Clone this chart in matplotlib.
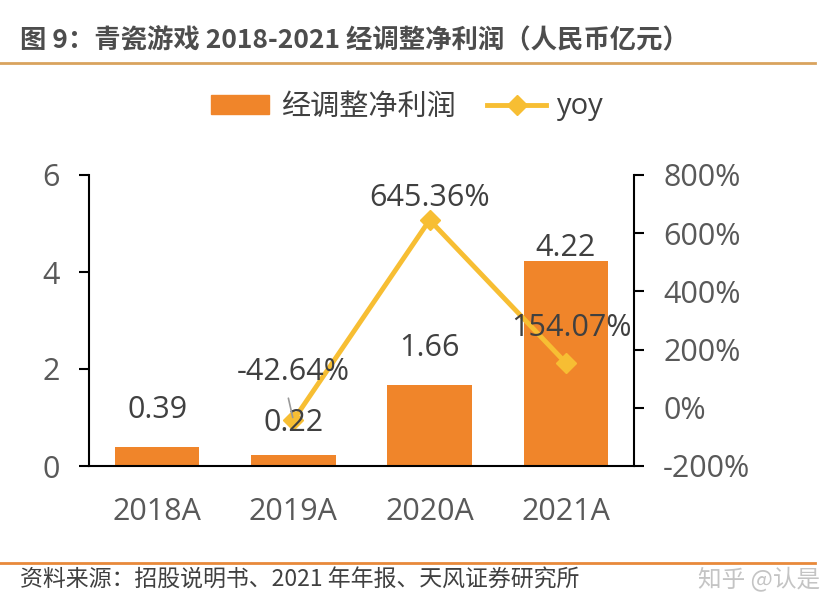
import matplotlib
matplotlib.use("Agg")
from matplotlib import pyplot as plt
from matplotlib.patches import Patch
from matplotlib.lines import Line2D

plt.rcParams['font.family'] = ['Open Sans', 'Noto Sans CJK SC', 'DejaVu Sans']

# data
years = ['2018A', '2019A', '2020A', '2021A']
profit = [0.39, 0.22, 1.66, 4.22]
yoy_years = ['2019A', '2020A', '2021A']
yoy = [-42.64, 645.36, 154.07]

bar_color = '#F0852A'
line_color = '#F7BE33'
text_color = '#404040'
tick_color = '#595959'

fig = plt.figure(figsize=(8.4, 6.15), dpi=100)
ax = fig.add_axes([89/840, 1-466/615, (634-89)/840, (466-175)/615])
ax2 = ax.twinx()

x = list(range(len(years)))
ax.bar(x, profit, width=0.62, color=bar_color, zorder=2)
ax.set_xlim(-0.5, len(years)-0.5)
ax.set_ylim(0, 6)
ax.set_yticks([0, 2, 4, 6])
ax.set_xticks(x)
ax.set_xticklabels(years)

xl = [years.index(y) for y in yoy_years]
ax2.plot(xl, yoy, color=line_color, lw=3.5, marker='D', ms=10,
         markerfacecolor=line_color, markeredgecolor=line_color, zorder=3)
ax2.set_ylim(-200, 800)
ax2.set_yticks(range(-200, 801, 200))
ax2.set_yticklabels([f'{v}%' for v in range(-200, 801, 200)])

for a in (ax, ax2):
    a.spines['top'].set_visible(False)
    for s in ('left', 'right', 'bottom'):
        a.spines[s].set_linewidth(1.5)
        a.spines[s].set_color('black')
    a.tick_params(axis='y', labelsize=22, labelcolor=tick_color, length=7,
                  width=1.5, direction='out', pad=14)
ax.tick_params(axis='x', length=0, labelsize=22, labelcolor=tick_color, pad=22)
ax.spines['right'].set_visible(False)
ax2.spines['left'].set_visible(False)
ax2.spines['bottom'].set_visible(False)

# bar labels (drawn on ax2 so they sit above the yoy line)
bar_offsets = [37, 32, 37, 13]
for i, v in enumerate(profit):
    ax2.annotate(f'{v:.2f}', (i, v), xycoords=ax.transData,
                 xytext=(0, bar_offsets[i]), textcoords='offset pixels',
                 ha='center', va='center', fontsize=22, color=text_color, zorder=5)

# yoy labels
yoy_offsets = [(0, 48), (0, 22), (6, 35)]
for j, (xi, v) in enumerate(zip(xl, yoy)):
    dx, dy = yoy_offsets[j]
    ax2.annotate(f'{v:.2f}%', (xi, v), xytext=(dx, dy),
                 textcoords='offset pixels', ha='center', va='center',
                 fontsize=22, color=text_color, zorder=5)
# leader line for 2019 label
ax2.annotate('', (xl[0], yoy[0]), xytext=(-5, 22), textcoords='offset pixels',
             arrowprops=dict(arrowstyle='-', color='#999999', lw=1.2,
                             shrinkA=0, shrinkB=2), zorder=6)

# legend
handles = [Patch(color=bar_color, label='经调整净利润'),
           Line2D([], [], color=line_color, lw=3.5, marker='D', ms=10, label='yoy')]
fig.legend(handles=handles, loc='center', bbox_to_anchor=(0.485, 1-107/615),
           ncol=2, frameon=False, fontsize=21, handlelength=2.0, handleheight=0.65,
           columnspacing=1.1, handletextpad=0.4, labelcolor=text_color)

# title and rules
cjk = ['Noto Sans CJK SC', 'DejaVu Sans']
fig.text(20/840, 1-40/615, '图 9：青瓷游戏 2018-2021 经调整净利润（人民币亿元）',
         fontsize=19, fontweight='bold', color='#4d4d4d', ha='left', va='center',
         family=cjk)
fig.add_artist(Line2D([0, 815/840], [1-63/615, 1-63/615], color='#D9A35E', lw=2))
fig.add_artist(Line2D([0, 815/840], [1-563/615, 1-563/615], color='#E8893A', lw=2))
fig.text(20/840, 1-580/615, '资料来源：招股说明书、2021 年年报、天风证券研究所',
         fontsize=16.5, color=text_color, ha='left', va='center', family=cjk)
fig.text(820/840, 1-580/615, '知乎 @认是', fontsize=17, color='#c4c4c4',
         ha='right', va='center', family=cjk)

fig.savefig('out.png', dpi=100)
